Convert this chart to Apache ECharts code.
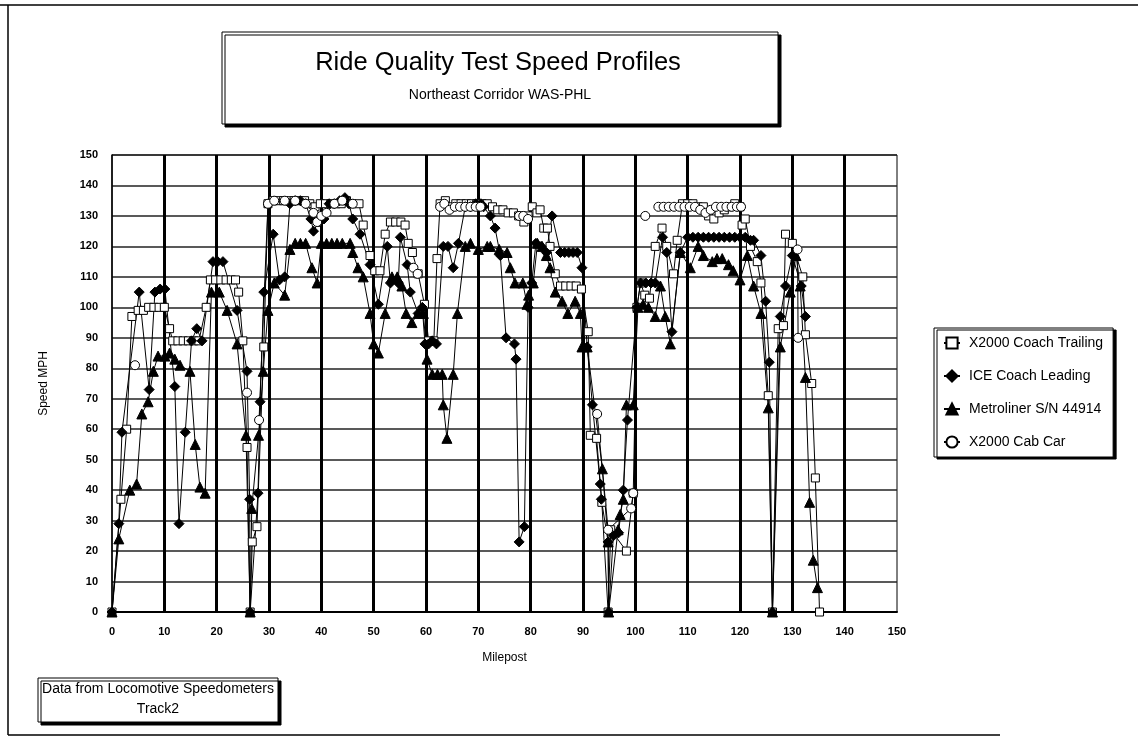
<!DOCTYPE html>
<html>
<head>
<meta charset="utf-8">
<title>Ride Quality Test Speed Profiles</title>
<script src="https://cdn.jsdelivr.net/npm/echarts@6/dist/echarts.min.js"></script>
<style>
html,body{margin:0;padding:0;background:#fff;}
#chart{width:1138px;height:749px;}
</style>
</head>
<body>
<div id="chart"></div>
<script>
var seriesNames = ['X2000 Coach Trailing', 'ICE Coach Leading', 'Metroliner S/N 44914', 'X2000 Cab Car'];
var tickValues = [0, 10, 20, 30, 40, 50, 60, 70, 80, 90, 100, 110, 120, 130, 140, 150];

// [milepost, mph] pairs, '-' = break in the line
var coachTrailing = [
  [0,0],[1.7,37],[2.8,60],[3.8,97],[5,99],[6,99],[7,100],[8,100],[9,100],[10,100],[11,93],
  [11.6,89],[12.6,89],[13.6,89],[14.6,89],[15.6,89],[16.6,89],[18,100],[18.8,109],[19.8,109],
  [20.8,109],[21.8,109],[22.8,109],[23.6,109],[24.2,105],[25,89],[25.8,54],[26.4,0],[26.8,23],
  [27.7,28],[29,87],[29.8,134],[30.8,135],[31.8,135],[32.8,135],[33.8,135],[34.8,135],[35.8,135],
  [36.8,135],[37.8,134],[38.8,133],[39.8,134],[40.8,134],[41.8,134],[42.8,134],[43.8,134],
  [44.8,135],[45.8,134],[47.2,134],[48,127],[49.3,117],[50.2,112],[51.2,112],[52.2,124],
  [53.2,128],[54.2,128],[55.2,128],[56,127],[56.6,121],[57.4,118],[58.5,111],[59.7,101],
  [60.5,89],[61.5,89],[62.1,116],[62.7,134],[63.7,135],[64.7,133],[65.7,134],[66.7,134],
  [67.7,134],[68.7,134],[69.7,134],[70.7,134],[71.7,134],[72.7,133],[73.7,132],[74.7,132],
  [75.7,131],[76.7,131],[77.7,130],[78.7,128],[79.5,130],[80.3,133],[81.2,131],[81.8,132],
  [82.5,126],[83.2,126],[83.7,120],[84.7,111],[85.7,107],[86.7,107],[87.7,107],[88.7,107],
  [89.7,106],[91,92],[91.4,58],[92.6,57],[93.6,36],[94.8,0],[95.3,27],[98.3,20],[99.6,39],
  [100.3,100],[101,108],[101.8,104],[102.7,103],[103.8,120],[105.1,126],[106,120],[107.3,111],
  [108,122],[109,134],[110,134],[111,134],[112,133],[113,133],[114,130],[115,129],[116,131],
  [117,132],[118,133],[119,134],[120,133],[120.4,127],[121,129],[122,120],[123.3,115],[124,108],
  [125.4,71],[126.2,0],[127.3,93],[128.3,94],[128.7,124],[130,121],[132,110],[132.5,91],
  [133.7,75],[134.4,44],[135.2,0]
];

var iceLeading = [
  [0,0],[1.3,29],[1.9,59],[5.2,105],[7.1,73],[8.2,105],[9.2,106],[10.1,106],[12,74],[12.8,29],
  [14,59],[15.2,89],[16.2,93],[17.2,89],[19.3,115],[20.2,115],[21.2,115],[23.9,99],[25.8,79],
  [26.3,37],[26.4,0],[27.9,39],[28.3,69],[29,105],[30.8,124],[32,109],[33,110],[34,134],[35,135],
  [36,135],[37,134],[38,129],[38.5,125],[39.5,128],[40.5,129],[41.5,134],[42.5,134],[43.5,135],
  [44.5,136],[45.3,134],[46,129],[47.4,124],[49.3,114],[50.9,101],[52.6,120],[53.2,108],
  [54.7,108],[55.1,123],[56.4,114],[57,105],[58.5,98],[59.3,100],[59.8,88],[60.5,88],[61.2,89],
  [62,88],[63.3,120],[64.2,120],[65.2,113],[66.2,121],[67.5,133],[68.5,133],[69.5,134],
  [70.5,134],[71,133],[72.3,130],[73.2,126],[74.2,117],[75.3,90],[76.9,88],[77.2,83],[77.8,23],
  [78.8,28],[79.5,100],[80.2,108],[81,121],[82,120],[83,118],[84.1,130],[85.7,118],[86.5,118],
  [87.3,118],[88.1,118],[88.9,118],[89.8,113],[90.8,87],[91.8,68],[93.3,42],[93.5,37],[94.8,23],
  [94.9,0],[95.8,25],[96.8,26],[97.7,40],[98.5,63],[100.3,100],[101,108],[102,108],[103,108],
  [103.8,108],[105.2,123],[106,118],[107,92],[108.6,118],[110,123],[111,123],[112,123],[113,123],
  [114,123],[115,123],[116,123],[117,123],[118,123],[119,123],[120,123],[121,123],[122,122],
  [122.6,122],[124,117],[124.9,102],[125.6,82],[126.2,0],[127.7,97],[128.7,107],[130,117],
  [131.7,107],[132.5,97]
];

var metroliner = [
  [0,0],[1.3,24],[3.4,40],[4.7,42],[5.7,65],[6.9,69],[7.9,79],[8.8,84],[10.1,84],[11,85],[12,83],
  [13,81],[14.9,79],[15.9,55],[16.8,41],[17.8,39],[19,105],[20.5,105],[22,99],[23.9,88],
  [25.6,58],[26.4,0],[26.7,34],[28,58],[28.9,79],[29.8,99],[31,108],[33,104],[34,119],[35,121],
  [36,121],[37,121],[38.2,113],[39.2,108],[40,121],[41,121],[42,121],[43,121],[44,121],
  [45.5,121],[46,118],[47,113],[48,110],[49.3,98],[50,88],[50.9,85],[52.2,98],[53.5,110],
  [54.5,110],[55.4,107],[56.2,98],[57.3,95],[58.5,98],[59.5,98],[60.2,83],[61.2,78],[62.2,78],
  [63.1,78],[63.3,68],[64,57],[65.2,78],[66,98],[67.5,120],[68.5,121],[70,119],[71.7,120],
  [72.3,120],[74,119],[75.5,118],[76.1,113],[77,108],[78.5,108],[79.3,101],[79.6,104],
  [80.5,108],[81.3,121],[82.2,120],[83,117],[83.7,113],[84.7,105],[86,102],[87.1,98],[88.5,102],
  [89.5,98],[89.8,87],[90.8,87],[93.7,47],[94.8,23],[94.9,0],[96.7,27],[97.1,32],[97.7,37],
  [98.3,68],[99.6,68],[100.5,100],[101.5,101],[102.5,100],[103.8,97],[104.8,107],[105.7,97],
  [106.7,88],[108.6,118],[110.5,113],[112,120],[113,117],[114.7,115],[115.6,116],[116.6,116],
  [117.8,114],[118.7,112],[120,109],[121.4,117],[122.6,107],[124,98],[125.4,67],[126.2,0],
  [127.7,87],[129.6,105],[130.7,117],[131.5,107],[132.5,77],[133.3,36],[134,17],[134.8,8]
];

var cabCar = [
  [4.4,81],[15,'-'],[25.8,72],[27,'-'],
  [28.1,63],[29.8,134],[31,135],[33,135],[35,135],[37,134],[38.5,131],[39.2,128],[40,130],
  [41,131],[42.5,134],[44,135],[46,134],[50,'-'],
  [57.6,113],[58.4,111],[60,'-'],
  [62.7,133],[63.5,134],[64.5,132],[65.5,133],[66.5,133],[67.5,133],[68.5,133],[69.5,133],
  [70.4,133],[74,'-'],
  [77.8,130],[78.6,130],[79.5,129],[85,'-'],
  [92.7,65],[94.8,27],[99.2,34],[99.6,39],[100.5,'-'],
  [101.9,130],[103,'-'],
  [104.4,133],[105.4,133],[106.4,133],[107.4,133],[108.4,133],[109.4,133],[110.4,133],
  [111.4,133],[112.4,132],[113.4,131],[114.4,132],[115.4,133],[116.4,133],[117.4,133],
  [118.4,133],[119.4,133],[120.2,133],[125,'-'],
  [131,119],[131.1,90]
];

var chart = echarts.init(document.getElementById('chart'));
var font = 'Liberation Sans, Arial, sans-serif';

function lineSeries(name, data, symbol, size, fill) {
  return {
    name: name,
    type: 'line',
    data: data,
    symbol: symbol,
    symbolSize: size,
    showAllSymbol: true,
    connectNulls: false,
    animation: false,
    lineStyle: { color: '#000', width: 1 },
    itemStyle: { color: fill, borderColor: '#000', borderWidth: 1 },
    emphasis: { disabled: true }
  };
}

chart.setOption({
  backgroundColor: '#fff',
  animation: false,
  grid: { left: 112, right: 241, top: 155, bottom: 137, show: true, borderColor: '#000', borderWidth: 1, backgroundColor: 'transparent' },
  xAxis: {
    type: 'value',
    min: tickValues[0], max: tickValues[tickValues.length - 1], interval: 10,
    name: 'Milepost', nameLocation: 'middle', nameGap: 40,
    nameTextStyle: { fontFamily: font, fontSize: 12, color: '#000' },
    axisLine: { show: true, lineStyle: { color: '#000', width: 2 } },
    axisTick: { show: false },
    axisLabel: { fontFamily: font, fontSize: 11, fontWeight: 'bold', color: '#000', margin: 14 },
    splitLine: { show: true, showMinLine: false, showMaxLine: false, lineStyle: { color: '#000', width: 3 } }
  },
  yAxis: {
    type: 'value',
    min: tickValues[0], max: tickValues[tickValues.length - 1], interval: 10,
    name: 'Speed MPH', nameLocation: 'middle', nameGap: 62, nameRotate: 90,
    nameTextStyle: { fontFamily: font, fontSize: 12, color: '#000' },
    axisLine: { show: true, lineStyle: { color: '#000', width: 1.5 } },
    axisTick: { show: false },
    axisLabel: { fontFamily: font, fontSize: 11, fontWeight: 'bold', color: '#000', margin: 14 },
    splitLine: { show: true, lineStyle: { color: '#222', width: 1.5 } }
  },
  legend: {
    orient: 'vertical', left: 934, top: 328,
    data: seriesNames,
    itemWidth: 16, itemHeight: 14, itemGap: 19,
    padding: [8, 10, 8, 9],
    backgroundColor: '#fff', borderColor: '#000', borderWidth: 1,
    shadowColor: '#000', shadowOffsetX: 3, shadowOffsetY: 2, shadowBlur: 0,
    textStyle: { fontFamily: font, fontSize: 14, color: '#000', padding: [0, 0, 0, 4] },
    selectedMode: false
  },
  graphic: [
    { type: 'line', shape: { x1: 0, y1: 5, x2: 1138, y2: 5 }, style: { stroke: '#000', lineWidth: 1.5 } },
    { type: 'line', shape: { x1: 8, y1: 5, x2: 8, y2: 735 }, style: { stroke: '#000', lineWidth: 1.5 } },
    { type: 'line', shape: { x1: 8, y1: 735, x2: 1000, y2: 735 }, style: { stroke: '#000', lineWidth: 1.5 } },
    { type: 'rect', shape: { x: 222, y: 32, width: 556, height: 92 },
      style: { fill: '#fff', stroke: '#000', lineWidth: 1, shadowColor: '#000', shadowOffsetX: 3, shadowOffsetY: 3, shadowBlur: 0 } },
    { type: 'text', x: 498, y: 63, style: { text: 'Ride Quality Test Speed Profiles', fontFamily: font, fontSize: 25.5, fill: '#000', align: 'center', verticalAlign: 'middle' } },
    { type: 'text', x: 500, y: 95, style: { text: 'Northeast Corridor WAS-PHL', fontFamily: font, fontSize: 14, fill: '#000', align: 'center', verticalAlign: 'middle' } },
    { type: 'rect', shape: { x: 38, y: 678, width: 240, height: 44 },
      style: { fill: '#fff', stroke: '#000', lineWidth: 1, shadowColor: '#000', shadowOffsetX: 3, shadowOffsetY: 3, shadowBlur: 0 } },
    { type: 'text', x: 158, y: 689, style: { text: 'Data from Locomotive Speedometers', fontFamily: font, fontSize: 14, fill: '#000', align: 'center', verticalAlign: 'middle' } },
    { type: 'text', x: 158, y: 709, style: { text: 'Track2', fontFamily: font, fontSize: 14, fill: '#000', align: 'center', verticalAlign: 'middle' } }
  ],
  series: [
    lineSeries(seriesNames[0], coachTrailing, 'rect', 8, '#fff'),
    lineSeries(seriesNames[1], iceLeading, 'diamond', 10, '#000'),
    lineSeries(seriesNames[2], metroliner, 'triangle', 10, '#000'),
    lineSeries(seriesNames[3], cabCar, 'circle', 9, '#fff')
  ]
});
</script>
</body>
</html>
